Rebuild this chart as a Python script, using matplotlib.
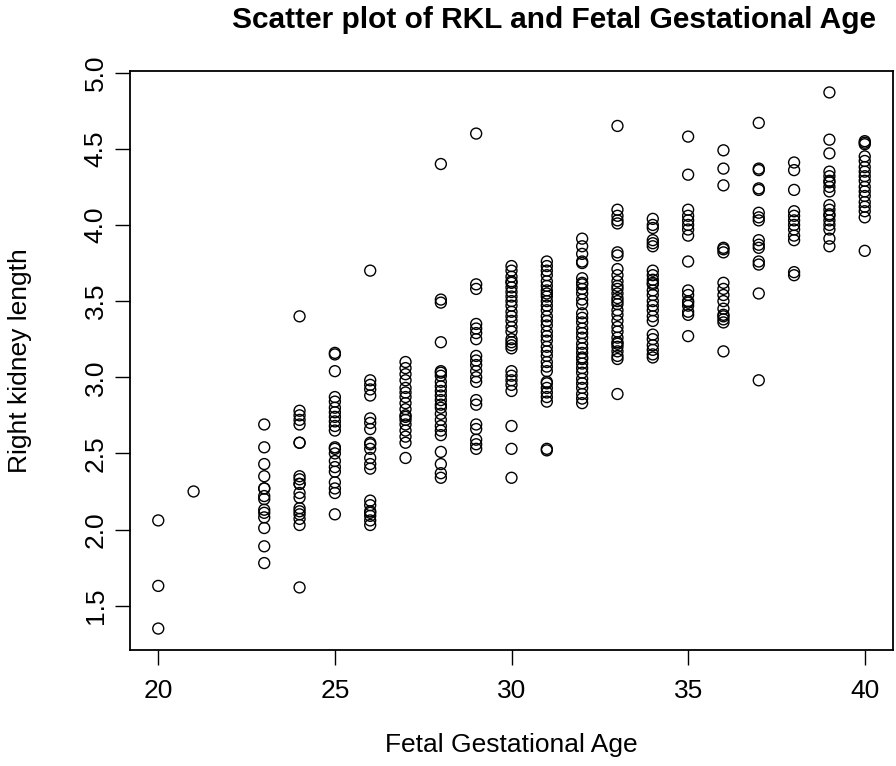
import matplotlib
matplotlib.use("Agg")
import matplotlib.pyplot as plt
import numpy as np

plt.rcParams['font.family'] = ['Liberation Sans', 'DejaVu Sans']

title = "Scatter plot of RKL and Fetal Gestational Age"
x_label = "Fetal Gestational Age"
y_label = "Right kidney length"
x_ticks = [20, 25, 30, 35, 40]
y_ticks = [1.5, 2.0, 2.5, 3.0, 3.5, 4.0, 4.5, 5.0]

# Right kidney length values read per gestational age (weeks)
rkl_20 = [2.06, 1.63, 1.35]
rkl_21 = [2.25]
rkl_23 = [2.69, 2.54, 2.43, 2.35, 2.27, 2.27, 2.22, 2.20, 2.13, 2.11, 2.08, 2.01, 1.89, 1.78]
rkl_24 = [3.40, 2.78, 2.75, 2.72, 2.69, 2.57, 2.57, 2.35, 2.33, 2.30, 2.30, 2.24, 2.21,
          2.14, 2.12, 2.10, 2.07, 2.03, 1.62]
rkl_25 = [3.16, 3.15, 3.04, 2.87, 2.84, 2.80, 2.77, 2.74, 2.71, 2.68, 2.65, 2.54, 2.53,
          2.50, 2.45, 2.41, 2.38, 2.31, 2.27, 2.24, 2.10]
rkl_26 = [3.70, 2.98, 2.95, 2.92, 2.88, 2.73, 2.70, 2.66, 2.57, 2.56, 2.53, 2.47, 2.43,
          2.40, 2.19, 2.16, 2.12, 2.11, 2.09, 2.06, 2.03]
rkl_27 = [3.10, 3.06, 3.02, 2.98, 2.93, 2.90, 2.87, 2.83, 2.79, 2.75, 2.74, 2.72, 2.69,
          2.65, 2.61, 2.57, 2.47]
rkl_28 = [4.40, 3.51, 3.49, 3.23, 3.04, 3.03, 3.01, 2.97, 2.94, 2.91, 2.88, 2.85, 2.82,
          2.80, 2.76, 2.72, 2.68, 2.65, 2.62, 2.51, 2.43, 2.37, 2.34]
rkl_29 = [4.60, 3.61, 3.58, 3.35, 3.32, 3.29, 3.25, 3.14, 3.11, 3.08, 3.04, 3.00, 2.97,
          2.85, 2.82, 2.69, 2.66, 2.59, 2.56, 2.53]
rkl_30 = [3.73, 3.70, 3.66, 3.63, 3.62, 3.59, 3.56, 3.53, 3.50, 3.47, 3.43, 3.40, 3.37,
          3.33, 3.30, 3.25, 3.23, 3.21, 3.19, 3.04, 3.01, 2.98, 2.95, 2.91, 2.68, 2.53, 2.34]
rkl_31 = [3.76, 3.73, 3.70, 3.67, 3.63, 3.60, 3.57, 3.55, 3.53, 3.50, 3.47, 3.44, 3.40,
          3.37, 3.34, 3.30, 3.27, 3.24, 3.20, 3.17, 3.14, 3.10, 3.07, 3.04, 2.97, 2.96,
          2.93, 2.90, 2.87, 2.84, 2.53, 2.52]
rkl_32 = [3.91, 3.86, 3.81, 3.76, 3.75, 3.65, 3.62, 3.61, 3.58, 3.55, 3.51, 3.48, 3.42,
          3.39, 3.36, 3.32, 3.29, 3.26, 3.22, 3.19, 3.16, 3.13, 3.12, 3.09, 3.06, 3.03,
          2.99, 2.96, 2.93, 2.89, 2.86, 2.83]
rkl_33 = [4.65, 4.10, 4.06, 4.03, 4.01, 3.82, 3.80, 3.71, 3.67, 3.63, 3.60, 3.58, 3.55,
          3.52, 3.50, 3.48, 3.44, 3.41, 3.37, 3.33, 3.30, 3.26, 3.23, 3.22, 3.20, 3.17,
          3.14, 3.12, 2.89]
rkl_34 = [4.04, 4.00, 3.98, 3.90, 3.88, 3.86, 3.70, 3.67, 3.64, 3.62, 3.61, 3.57, 3.54,
          3.50, 3.47, 3.44, 3.40, 3.37, 3.28, 3.25, 3.21, 3.18, 3.15, 3.13]
rkl_35 = [4.58, 4.33, 4.10, 4.06, 4.03, 4.00, 3.97, 3.93, 3.76, 3.57, 3.54, 3.50, 3.49,
          3.47, 3.43, 3.41, 3.27]
rkl_36 = [4.49, 4.37, 4.26, 3.85, 3.84, 3.82, 3.62, 3.58, 3.54, 3.50, 3.45, 3.41, 3.40,
          3.38, 3.36, 3.17]
rkl_37 = [4.67, 4.37, 4.36, 4.24, 4.23, 4.08, 4.05, 4.03, 3.90, 3.87, 3.85, 3.76, 3.74,
          3.55, 2.98]
rkl_38 = [4.41, 4.36, 4.23, 4.09, 4.06, 4.03, 4.00, 3.97, 3.93, 3.90, 3.69, 3.67]
rkl_39 = [4.87, 4.56, 4.47, 4.35, 4.32, 4.29, 4.28, 4.25, 4.22, 4.13, 4.10, 4.07, 4.06,
          4.03, 4.00, 3.97, 3.91, 3.86]
rkl_40 = [4.55, 4.54, 4.53, 4.45, 4.42, 4.38, 4.35, 4.32, 4.29, 4.25, 4.22, 4.19, 4.15,
          4.12, 4.09, 4.05, 3.83]

ages = [20, 21, 23, 24, 25, 26, 27, 28, 29, 30, 31, 32, 33, 34, 35, 36, 37, 38, 39, 40]
groups = [rkl_20, rkl_21, rkl_23, rkl_24, rkl_25, rkl_26, rkl_27, rkl_28, rkl_29, rkl_30,
          rkl_31, rkl_32, rkl_33, rkl_34, rkl_35, rkl_36, rkl_37, rkl_38, rkl_39, rkl_40]

x = np.concatenate([[a] * len(g) for a, g in zip(ages, groups)])
y = np.concatenate([g for g in groups])

W, H = 896, 766
L, R, T, B = 130, 893, 71, 650
fig = plt.figure(figsize=(W / 100, H / 100), dpi=100)
ax = fig.add_axes([L / W, 1 - B / H, (R - L) / W, (B - T) / H])

ax.scatter(x, y, s=62, facecolors='none', edgecolors='black', linewidths=1.0, marker='o')

xr = x.max() - x.min()
yr = y.max() - y.min()
ax.set_xlim(x.min() - 0.04 * xr, x.max() + 0.04 * xr)
ax.set_ylim(y.min() - 0.04 * yr, y.max() + 0.04 * yr)

ax.set_xticks(x_ticks)
ax.set_xticklabels([str(t) for t in x_ticks])
ax.set_yticks(y_ticks)
ax.set_yticklabels([f"{t:.1f}" for t in y_ticks], rotation=90, va='center')

ax.tick_params(axis='both', direction='out', length=11, width=1.0, labelsize=19)
ax.tick_params(axis='x', pad=10)
ax.tick_params(axis='y', pad=5)
for sp in ax.spines.values():
    sp.set_linewidth(1.3)

ax.set_xlabel(x_label, fontsize=19, va='center')
ax.xaxis.set_label_coords(0.5, (B - 745) / (B - T))
ax.set_ylabel(y_label, fontsize=19, va='center')
ax.yaxis.set_label_coords((20 - L) / (R - L), 0.5)

fig.text(554 / W, 1 - 20 / H, title, ha='center', va='center',
         fontsize=21.5, fontweight='bold')

fig.savefig("out.png", dpi=100)
